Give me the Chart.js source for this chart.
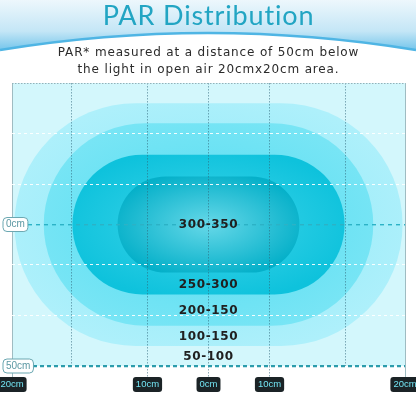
<!DOCTYPE html>
<html>
<head>
<meta charset="utf-8">
<script src="https://cdn.jsdelivr.net/npm/chart.js@4.4.0/dist/chart.umd.min.js"></script>
<style>
html, body { margin: 0; padding: 0; background: #fff; }
</style>
</head>
<body>
<canvas id="graphPar" width="416" height="397"></canvas>
<script>
// zones from the centre outwards
const zoneLabels = ['300-350', '250-300', '200-150', '100-150', '50-100'];
const zoneLabelY = [0, 21.2, 30.4, 39.6, 46.6];
// half width (grid units) and half height (cm) of each rounded zone
const zoneHalfWidth = [1.49, 2.23, 2.70, 3.18];
const zoneHalfHeight = [17, 24.7, 35.8, 42.9];
const zoneColors = [['#66d8e8', '#05b0c9'], ['#3fd5ea', '#0ec2dc'], ['#55ddf1', '#78e5f5'], ['#8ee9f8', '#aef0fb']];

const xTicks = [-3.22, -2.25, -1, 0, 1, 2.25, 3.22];
const xTickLabels = ['20cm', '', '10cm', '0cm', '10cm', '', '20cm'];
const yTicks = [-50, -32, -14, 0, 14, 32, 50];
const yTickLabels = ['', '', '', '0cm', '', '', '50cm'];

const subtitleLines = ['PAR* measured at a distance of 50cm below', 'the light in open air 20cmx20cm area.'];

const zonesPlugin = {
    id: 'zones',
    beforeDraw(chart) {
        const { ctx, chartArea: a, scales: { x, y } } = chart;
        const W = chart.width;
        ctx.save();
        // bandeau du titre
        const g = ctx.createLinearGradient(0, 0, 0, 52);
        g.addColorStop(0, '#edf7fc');
        g.addColorStop(0.6, '#c4e6f6');
        g.addColorStop(1, '#6cc2ea');
        ctx.beginPath();
        ctx.moveTo(0, 0);
        ctx.lineTo(W, 0);
        ctx.lineTo(W, 50);
        ctx.quadraticCurveTo(W / 2, 16, 0, 50);
        ctx.closePath();
        ctx.fillStyle = g;
        ctx.fill();
        ctx.beginPath();
        ctx.moveTo(0, 50);
        ctx.quadraticCurveTo(W / 2, 16, W, 50);
        ctx.strokeStyle = '#4fb5e4';
        ctx.lineWidth = 2.5;
        ctx.stroke();

        // fond de la zone 50-100
        ctx.fillStyle = '#d3f7fc';
        ctx.fillRect(a.left, a.top, a.right - a.left, a.bottom - a.top);

        const cx = x.getPixelForValue(0), cy = y.getPixelForValue(0);
        for (let i = zoneHalfWidth.length - 1; i >= 0; i--) {
            const w = x.getPixelForValue(zoneHalfWidth[i]) - cx;
            const h = y.getPixelForValue(zoneHalfHeight[i]) - cy;
            ctx.save();
            ctx.beginPath();
            ctx.roundRect(cx - w, cy - h, 2 * w, 2 * h, h);
            ctx.translate(cx, cy);
            ctx.scale(w / h, 1);
            const rg = ctx.createRadialGradient(0, 0, 0, 0, 0, h * 1.1);
            rg.addColorStop(0, zoneColors[i][0]);
            rg.addColorStop(1, zoneColors[i][1]);
            ctx.fillStyle = rg;
            ctx.fill();
            ctx.restore();
        }
        ctx.restore();
        // titre et sous-titre un peu espacés
        ctx.letterSpacing = '0.85px';
    },
    beforeDatasetsDraw(chart) {
        chart.ctx.letterSpacing = '0px';
    },
    afterDatasetsDraw(chart) {
        const { ctx, scales: { x, y } } = chart;
        ctx.save();
        // zone labels
        const meta = chart.getDatasetMeta(0);
        ctx.font = 'bold 12px "DejaVu Sans"';
        ctx.letterSpacing = '0.6px';
        ctx.fillStyle = '#202020';
        ctx.textAlign = 'center';
        ctx.textBaseline = 'middle';
        meta.data.forEach((pt, i) => ctx.fillText(zoneLabels[i], pt.x, pt.y));
        ctx.letterSpacing = '0px';

        // boxes behind the axis labels
        ctx.font = '9.5px "Liberation Sans"';
        xTicks.forEach((v, i) => {
            if (!xTickLabels[i]) return;
            const px = x.getPixelForValue(v);
            const tw = ctx.measureText(xTickLabels[i]).width;
            ctx.beginPath();
            ctx.roundRect(px - tw / 2 - 3, 377, tw + 6, 15, 3);
            ctx.fillStyle = '#1b2326';
            ctx.fill();
        });
        ctx.font = '10px "Liberation Sans"';
        yTicks.forEach((v, i) => {
            if (!yTickLabels[i]) return;
            const py = y.getPixelForValue(v);
            const tw = ctx.measureText(yTickLabels[i]).width;
            ctx.beginPath();
            ctx.roundRect(3, py - 7, tw + 6, 14, 4);
            ctx.fillStyle = '#ffffff';
            ctx.fill();
            ctx.strokeStyle = '#6aa7b1';
            ctx.lineWidth = 1;
            ctx.stroke();
        });
        ctx.restore();
    }
};

const ctx = document.getElementById('graphPar').getContext('2d');
window.graphParChart = new Chart(ctx, {
    type: 'scatter',
    data: {
        datasets: [{
            label: 'zones',
            data: zoneLabelY.map(v => ({ x: 0, y: v })),
            pointRadius: 0
        }]
    },
    options: {
        responsive: false,
        animation: false,
        layout: { padding: { left: 12, right: 11, top: 0, bottom: 0 } },
        plugins: {
            legend: { display: false },
            tooltip: { enabled: false },
            title: {
                display: true,
                text: 'PAR Distribution',
                color: '#22a5c3',
                font: { family: 'Lato', size: 27, weight: 'normal', lineHeight: 1.0 },
                padding: { top: 3, bottom: 0 }
            },
            subtitle: {
                display: true,
                text: subtitleLines,
                color: '#2b2b2b',
                font: { family: 'DejaVu Sans', size: 12, lineHeight: 1.46 },
                padding: { top: 14, bottom: 4 }
            }
        },
        scales: {
            x: {
                type: 'linear',
                min: xTicks[0],
                max: xTicks[xTicks.length - 1],
                afterBuildTicks: s => { s.ticks = xTicks.map(v => ({ value: v })); },
                afterFit: s => { s.paddingLeft = 0; s.paddingRight = 0; s.height = 31; },
                grid: {
                    z: -1,
                    lineWidth: 1,
                    color: c => (Math.abs(c.tick.value) > 3) ? '#9fbcc2' : 'rgba(45,100,120,0.55)',
                    tickLength: 11,
                    tickColor: c => xTickLabels[c.index] ? (Math.abs(c.tick.value) > 3 ? '#9fbcc2' : 'rgba(45,100,120,0.55)') : 'rgba(0,0,0,0)',
                    tickBorderDash: c => (Math.abs(c.tick.value) > 3) ? [] : [1.5, 1.5]
                },
                border: { display: false, dash: c => (Math.abs(c.tick.value) > 3) ? [] : [1.5, 1.5] },
                ticks: {
                    z: 1,
                    autoSkip: false,
                    maxRotation: 0,
                    padding: 2,
                    color: '#72e3f2',
                    font: { family: 'Liberation Sans', size: 9.5 },
                    callback: (v, i) => xTickLabels[i]
                }
            },
            y: {
                type: 'linear',
                reverse: true,
                min: yTicks[0],
                max: yTicks[yTicks.length - 1],
                afterBuildTicks: s => { s.ticks = yTicks.map(v => ({ value: v })); },
                afterFit: s => { s.width = 0; },
                grid: {
                    z: -1,
                    drawTicks: false,
                    lineWidth: c => c.tick.value === 50 ? 2.2 : (c.tick.value === 0 ? 1.4 : 1),
                    color: c => {
                        if (c.tick.value === 50) return '#2c9cac';
                        if (c.tick.value === 0) return '#2cb2c6';
                        if (c.tick.value === -50) return '#93b1b8';
                        return 'rgba(255,255,255,0.9)';
                    }
                },
                border: {
                    display: false,
                    dash: c => {
                        if (c.tick.value === 50) return [4, 3];
                        if (c.tick.value === 0) return [4, 4];
                        if (c.tick.value === -50) return [1.5, 1.5];
                        return [3, 3];
                    }
                },
                ticks: {
                    z: 1,
                    autoSkip: false,
                    mirror: true,
                    padding: -6,
                    color: '#5b98a3',
                    font: { family: 'Liberation Sans', size: 10 },
                    callback: (v, i) => yTickLabels[i]
                }
            }
        }
    },
    plugins: [zonesPlugin]
});
</script>
</body>
</html>
